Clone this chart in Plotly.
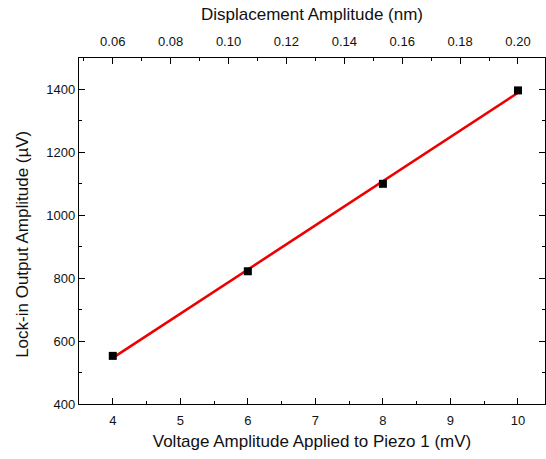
import numpy as np
import plotly.graph_objects as go

# Measured lock-in output vs. drive voltage on piezo 1
voltage_mv = [4, 6, 8, 10]
lockin_uv = [553, 822, 1100, 1397]

# Bottom/top axis ranges and the voltage -> displacement calibration
x_range = [3.5, 10.4]
disp_at_4mv = 0.06
disp_per_mv = 0.14 / 6.0

y_ticks = [400, 600, 800, 1000, 1200, 1400]
x_ticks = [4, 5, 6, 7, 8, 9, 10]
top_ticks = [0.06, 0.08, 0.10, 0.12, 0.14, 0.16, 0.18, 0.20]


def to_disp(v):
    return disp_at_4mv + (np.asarray(v, dtype=float) - 4.0) * disp_per_mv


# Linear least-squares fit through the measurements
slope, intercept = np.polyfit(voltage_mv, lockin_uv, 1)
fit_x = np.array([min(voltage_mv), max(voltage_mv)], dtype=float)
fit_y = slope * fit_x + intercept

font = "Liberation Sans, Arial, sans-serif"
text_color = "#111111"
axis_common = dict(
    showline=True, linecolor="black", linewidth=1.3,
    ticks="inside", ticklen=6, tickwidth=1, tickcolor="black",
    showgrid=False, zeroline=False,
    tickfont=dict(family=font, size=13, color=text_color),
)

fig = go.Figure()
fig.add_trace(go.Scatter(
    x=fit_x, y=fit_y, mode="lines",
    line=dict(color="#ee0000", width=2.6), showlegend=False, hoverinfo="skip",
))
fig.add_trace(go.Scatter(
    x=voltage_mv, y=lockin_uv, mode="markers",
    marker=dict(symbol="square", size=8, color="black"), showlegend=False,
))
# Invisible trace bound to the top displacement axis
fig.add_trace(go.Scatter(
    x=to_disp(voltage_mv), y=lockin_uv, xaxis="x2", mode="markers",
    marker=dict(opacity=0), showlegend=False, hoverinfo="skip",
))

fig.update_layout(
    width=546, height=459,
    margin=dict(l=79, r=1, t=58, b=55),
    paper_bgcolor="white", plot_bgcolor="white",
    font=dict(family=font, color="black"),
    xaxis=dict(
        **axis_common, range=x_range, tickvals=x_ticks, ticklabelstandoff=4,
        minor=dict(ticks="inside", ticklen=3, tickcolor="black", dtick=0.5, tick0=0),
        title=dict(text="Voltage Amplitude Applied to Piezo 1 (mV)",
                   font=dict(family=font, size=17, color=text_color), standoff=8),
    ),
    xaxis2=dict(
        **axis_common, overlaying="x", side="top", ticklabelstandoff=6,
        range=list(to_disp(x_range)), tickvals=top_ticks, tickformat=".2f",
        minor=dict(ticks="inside", ticklen=3, tickcolor="black", dtick=0.01, tick0=0),
        title=dict(text="Displacement Amplitude (nm)",
                   font=dict(family=font, size=17, color=text_color), standoff=8),
    ),
    yaxis=dict(
        **axis_common, range=[400, 1500], tickvals=y_ticks, mirror="ticks",
        minor=dict(ticks="inside", ticklen=3, tickcolor="black", dtick=100, tick0=0),
    ),
    annotations=[dict(
        text="Lock-in Output Amplitude (\u00b5V)", textangle=-90,
        xref="paper", yref="paper", x=0, y=0.46, xshift=-56,
        xanchor="center", yanchor="middle", showarrow=False,
        font=dict(family=font, size=17, color=text_color),
    )],
)

fig.write_html("out.html")
